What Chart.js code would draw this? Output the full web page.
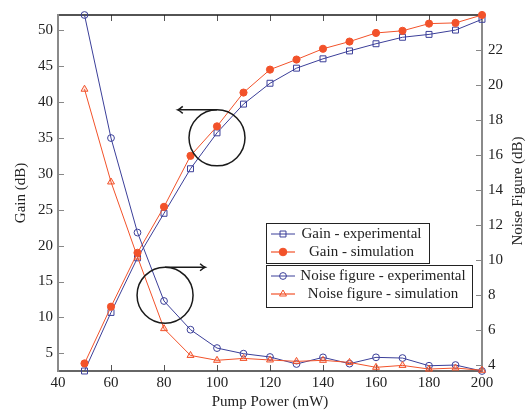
<!DOCTYPE html>
<html>
<head>
<meta charset="utf-8">
<script src="https://cdn.jsdelivr.net/npm/chart.js@4.4.1/dist/chart.umd.min.js"></script>
<style>
  html, body { margin: 0; padding: 0; background: #fff; }
  #wrap { position: relative; width: 532px; height: 414px; }
</style>
</head>
<body>
<div id="wrap"><canvas id="chart"></canvas></div>
<script>
// values
const pumpPower = [50, 60, 70, 80, 90, 100, 110, 120, 130, 140, 150, 160, 170, 180, 190, 200]
const gainExperimental = [2.55, 10.7, 18.3, 24.5, 30.7, 35.7, 39.7, 42.6, 44.7, 46.0, 47.1, 48.1, 49.0, 49.4, 50.0, 51.5]
const gainSimulation = [3.6, 11.5, 19.0, 25.4, 32.5, 36.6, 41.3, 44.5, 45.9, 47.4, 48.4, 49.6, 49.9, 50.9, 51.0, 52.1]
const noiseExperimental = [23.98, 16.95, 11.55, 7.64, 6.0, 4.95, 4.63, 4.44, 4.04, 4.42, 4.06, 4.42, 4.38, 3.94, 3.98, 3.64]
const noiseSimulation = [19.74, 14.44, 10.15, 6.06, 4.53, 4.25, 4.36, 4.27, 4.19, 4.25, 4.13, 3.85, 3.96, 3.75, 3.81, 3.68]

const powerTicks = [40, 60, 80, 100, 120, 140, 160, 180, 200]
const gainTicks = [5, 10, 15, 20, 25, 30, 35, 40, 45, 50]
const noiseTicks = [4, 6, 8, 10, 12, 14, 16, 18, 20, 22]

const blue = "#3b3f99"
const red = "#f2522a"
const textColor = "#222"
const serif = "'Liberation Serif', 'DejaVu Serif', serif"

Chart.defaults.font.family = serif
Chart.defaults.color = textColor

const points = (ys) => pumpPower.map((x, i) => ({ x, y: ys[i] }))
const useTicks = (values) => (scale) => {
    scale.ticks = values.map((value) => ({ value }))
}

const line = (ctx, x1, y1, x2, y2) => {
    ctx.beginPath()
    ctx.moveTo(x1, y1)
    ctx.lineTo(x2, y2)
    ctx.stroke()
}

const marker = (ctx, style, x, y, r) => {
    ctx.beginPath()
    if (style === "rect") {
        const s = r * Math.SQRT1_2
        ctx.rect(x - s, y - s, 2 * s, 2 * s)
    } else if (style === "triangle") {
        ctx.moveTo(x, y - r)
        ctx.lineTo(x + r * 0.866, y + r * 0.5)
        ctx.lineTo(x - r * 0.866, y + r * 0.5)
        ctx.closePath()
    } else {
        ctx.arc(x, y, r, 0, Math.PI * 2)
    }
}

const arrow = (ctx, x1, y, x2) => {
    line(ctx, x1, y, x2, y)
    const d = x2 < x1 ? 1 : -1
    ctx.beginPath()
    ctx.moveTo(x2 + d * 5, y - 3.5)
    ctx.quadraticCurveTo(x2 + d * 1.5, y - 0.5, x2, y)
    ctx.quadraticCurveTo(x2 + d * 1.5, y + 0.5, x2 + d * 5, y + 3.5)
    ctx.stroke()
}

const legendBoxes = [
    {
        x: 266, y: 223, w: 163, h: 40,
        entries: [
            { text: "Gain - experimental", color: blue, lineColor: blue, lw: 1, style: "rect", r: 4.2, fill: false },
            { text: "Gain - simulation", color: red, lineColor: "rgba(242,82,42,0.6)", lw: 2, style: "circle", r: 3.8, fill: true },
        ],
    },
    {
        x: 266, y: 265, w: 206, h: 42,
        entries: [
            { text: "Noise figure - experimental", color: blue, lineColor: blue, lw: 1, style: "circle", r: 3.4, fill: false },
            { text: "Noise figure - simulation", color: red, lineColor: "rgba(242,82,42,0.6)", lw: 2, style: "triangle", r: 4, fill: false },
        ],
    },
]

const framePlugin = {
    id: "framePlugin",
    beforeDatasetsDraw(chart) {
        const { ctx, chartArea: a, scales } = chart
        ctx.save()
        ctx.lineWidth = 1
        ctx.strokeStyle = "#555"
        scales.x.ticks.forEach((t) => {
            const px = Math.round(scales.x.getPixelForValue(t.value)) + 0.5
            line(ctx, px, a.bottom, px, a.bottom - 6)
            line(ctx, px, a.top, px, a.top + 6)
        })
        ctx.strokeStyle = "#888"
        scales.gain.ticks.forEach((t) => {
            const py = Math.round(scales.gain.getPixelForValue(t.value)) + 0.5
            line(ctx, a.left, py, a.left + 6, py)
        })
        scales.noise.ticks.forEach((t) => {
            const py = Math.round(scales.noise.getPixelForValue(t.value)) + 0.5
            line(ctx, a.right, py, a.right - 6, py)
        })
        ctx.lineWidth = 1.5
        ctx.strokeStyle = "#1a1a1a"
        line(ctx, a.left, a.top, a.right, a.top)
        ctx.strokeStyle = "#333"
        line(ctx, a.left, a.bottom, a.right, a.bottom)
        ctx.lineWidth = 2
        ctx.strokeStyle = "#8a8a8a"
        line(ctx, a.left, a.top - 1, a.left, a.bottom + 1)
        line(ctx, a.right, a.top - 1, a.right, a.bottom + 1)
        ctx.restore()
    },
    afterDatasetsDraw(chart) {
        const { ctx, chartArea: a, scales } = chart
        const x = scales.x
        const gain = scales.gain
        ctx.save()

        // circled curves with arrows pointing to their axis
        ctx.strokeStyle = "#1a1a1a"
        ctx.lineWidth = 1.5
        const r = 28
        const c1 = { x: x.getPixelForValue(100), y: gain.getPixelForValue(35) }
        ctx.beginPath()
        ctx.arc(c1.x, c1.y, r, 0, Math.PI * 2)
        ctx.stroke()
        arrow(ctx, c1.x, c1.y - r, x.getPixelForValue(85.2))
        const c2 = { x: x.getPixelForValue(80.4), y: gain.getPixelForValue(13.1) }
        ctx.beginPath()
        ctx.arc(c2.x, c2.y, r, 0, Math.PI * 2)
        ctx.stroke()
        arrow(ctx, c2.x, c2.y - r, x.getPixelForValue(95.5))

        // right axis title, reading bottom to top
        ctx.save()
        ctx.translate(518.5, (a.top + a.bottom) / 2 - 2)
        ctx.rotate(-Math.PI / 2)
        ctx.font = "15px " + serif
        ctx.fillStyle = textColor
        ctx.textAlign = "center"
        ctx.textBaseline = "middle"
        ctx.fillText("Noise Figure (dB)", 0, 0)
        ctx.restore()

        // legends
        ctx.font = "15px " + serif
        ctx.textBaseline = "middle"
        ctx.textAlign = "center"
        legendBoxes.forEach((box) => {
            ctx.fillStyle = "#fff"
            ctx.fillRect(box.x, box.y, box.w, box.h)
            ctx.strokeStyle = "#222"
            ctx.lineWidth = 1
            ctx.strokeRect(box.x + 0.5, box.y + 0.5, box.w, box.h)
            const textCenter = box.x + 32 + (box.w - 36) / 2
            box.entries.forEach((e, i) => {
                const cy = box.y + 11 + i * 18
                ctx.strokeStyle = e.lineColor
                ctx.lineWidth = e.lw
                line(ctx, box.x + 5, cy, box.x + 29, cy)
                ctx.strokeStyle = e.color
                ctx.fillStyle = e.color
                ctx.lineWidth = 1
                marker(ctx, e.style, box.x + 17, cy, e.r)
                if (e.fill) ctx.fill()
                ctx.stroke()
                ctx.fillStyle = textColor
                ctx.fillText(e.text, textCenter, cy + 0.5)
            })
        })
        ctx.restore()
    },
}

const allGain = gainExperimental.concat(gainSimulation)
const allNoise = noiseExperimental.concat(noiseSimulation)

new Chart(document.getElementById("chart").getContext("2d"), {
    type: "line",
    data: {
        datasets: [
            {
                label: "Gain - experimental",
                data: points(gainExperimental),
                yAxisID: "gain",
                borderColor: blue,
                borderWidth: 1,
                pointStyle: "rect",
                pointRadius: 4.2,
                pointBorderWidth: 1,
                pointBorderColor: blue,
                pointBackgroundColor: "rgba(0,0,0,0)",
                clip: false,
                order: 4,
            },
            {
                label: "Gain - simulation",
                data: points(gainSimulation),
                yAxisID: "gain",
                borderColor: red,
                borderWidth: 1,
                pointStyle: "circle",
                pointRadius: 3.6,
                pointBorderWidth: 1,
                pointBorderColor: red,
                pointBackgroundColor: red,
                clip: false,
                order: 3,
            },
            {
                label: "Noise figure - experimental",
                data: points(noiseExperimental),
                yAxisID: "noise",
                borderColor: blue,
                borderWidth: 1,
                pointStyle: "circle",
                pointRadius: 3.4,
                pointBorderWidth: 1,
                pointBorderColor: blue,
                pointBackgroundColor: "rgba(0,0,0,0)",
                clip: false,
                order: 2,
            },
            {
                label: "Noise figure - simulation",
                data: points(noiseSimulation),
                yAxisID: "noise",
                borderColor: red,
                borderWidth: 1,
                pointStyle: "triangle",
                pointRadius: 4,
                pointBorderWidth: 1,
                pointBorderColor: red,
                pointBackgroundColor: "rgba(242,82,42,0.15)",
                clip: false,
                order: 1,
            },
        ],
    },
    options: {
        responsive: true,
        maintainAspectRatio: false,
        animation: false,
        layout: { padding: { top: 13, left: 0, right: 0, bottom: 0 } },
        plugins: {
            legend: { display: false },
            tooltip: { enabled: false },
        },
        elements: { line: { tension: 0 } },
        scales: {
            x: {
                type: "linear",
                min: 40,
                max: 200,
                afterBuildTicks: useTicks(powerTicks),
                afterFit: (scale) => { scale.height = 43 },
                grid: { display: false, drawTicks: false },
                border: { display: false },
                ticks: { padding: 3, font: { size: 15 }, color: textColor },
                title: {
                    display: true,
                    text: "Pump Power (mW)",
                    font: { size: 15 },
                    color: textColor,
                    padding: { top: 0, bottom: 3 },
                },
            },
            gain: {
                type: "linear",
                position: "left",
                min: Math.min(...allGain),
                max: Math.max(...allGain),
                afterBuildTicks: useTicks(gainTicks),
                afterFit: (scale) => { scale.width = 58 },
                grid: { display: false, drawTicks: false },
                border: { display: false },
                ticks: { padding: 5, font: { size: 15 }, color: textColor },
                title: {
                    display: true,
                    text: "Gain (dB)",
                    font: { size: 15 },
                    color: textColor,
                    padding: { top: 12, bottom: 0 },
                },
            },
            noise: {
                type: "linear",
                position: "right",
                min: Math.min(...allNoise),
                max: Math.max(...allNoise),
                afterBuildTicks: useTicks(noiseTicks),
                afterFit: (scale) => { scale.width = 50 },
                grid: { display: false, drawTicks: false },
                border: { display: false },
                ticks: { padding: 6, font: { size: 15 }, color: textColor },
            },
        },
    },
    plugins: [framePlugin],
})
</script>
</body>
</html>
